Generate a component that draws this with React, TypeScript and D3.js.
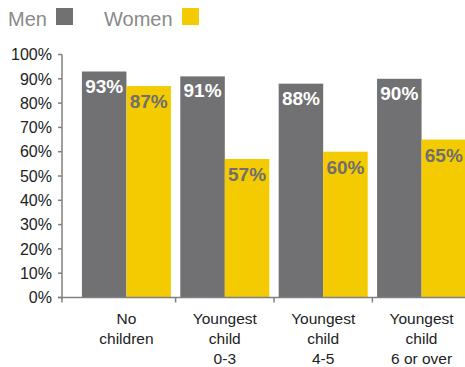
import React from "react";
import * as d3 from "d3";

const categories = ["No children", "Youngest child 0-3", "Youngest child 4-5", "Youngest child 6 or over"];
const categoryLines = [["No", "children"], ["Youngest", "child", "0-3"], ["Youngest", "child", "4-5"], ["Youngest", "child", "6 or over"]];
const menValues = [93, 91, 88, 90];
const womenValues = [87, 57, 60, 65];
const yTicks = [0, 10, 20, 30, 40, 50, 60, 70, 80, 90, 100];
const seriesNames = ["Men", "Women"];

const W = 465, H = 367;
const MEN = "#717072";
const WOMEN = "#f4cb00";
const AXIS = "#808080";
const FONT = "'Liberation Sans', Arial, sans-serif";

export default function App() {
  const y = d3.scaleLinear().domain([0, 100]).range([297.5, 54.5]);
  const x = d3.scaleBand<string>().domain(categories).range([77, 471]).paddingInner(0.095).paddingOuter(0.05);
  const inner = d3.scaleBand<string>().domain(seriesNames).range([0, x.bandwidth()]);
  const axisX = 62;
  const baseY = y(0);
  const step = x.step();

  return (
    <svg width={W} height={H} style={{ position: "absolute", left: 0, top: 0, background: "#fff" }}>
      {/* legend */}
      <text x={8} y={26} fontFamily={FONT} fontSize={20} fill="#8a8a8a">Men</text>
      <rect x={56} y={8} width={17} height={17} fill={MEN} />
      <text x={104} y={26} fontFamily={FONT} fontSize={20} fill="#8a8a8a">Women</text>
      <rect x={182} y={8} width={17} height={17} fill={WOMEN} />

      {/* bars */}
      {categories.map((c, i) => {
        const x0 = x(c)!;
        const bw = inner.bandwidth();
        return (
          <g key={c}>
            <rect x={x0 + inner("Men")!} y={y(menValues[i])} width={bw} height={baseY - y(menValues[i])} fill={MEN} />
            <rect x={x0 + inner("Women")!} y={y(womenValues[i])} width={bw} height={baseY - y(womenValues[i])} fill={WOMEN} />
            <text x={x0 + inner("Men")! + bw / 2} y={y(menValues[i]) + 21} textAnchor="middle" fontFamily={FONT} fontWeight="bold" fontSize={19} fill="#ffffff">{menValues[i]}%</text>
            <text x={x0 + inner("Women")! + bw / 2} y={y(womenValues[i]) + 22} textAnchor="middle" fontFamily={FONT} fontWeight="bold" fontSize={19} fill="#6f6f6f">{womenValues[i]}%</text>
          </g>
        );
      })}

      {/* y axis */}
      <line x1={axisX} x2={axisX} y1={y(100)} y2={baseY + 5} stroke={AXIS} strokeWidth={1.5} />
      {yTicks.map((t) => (
        <g key={t}>
          <line x1={axisX - 4} x2={axisX} y1={y(t)} y2={y(t)} stroke={AXIS} strokeWidth={1.5} />
          <text x={52} y={y(t)} dy="0.36em" textAnchor="end" fontFamily={FONT} fontSize={16} fill="#222">{t}%</text>
        </g>
      ))}

      {/* x axis */}
      <line x1={axisX - 4} x2={W} y1={baseY} y2={baseY} stroke={AXIS} strokeWidth={1.5} />
      {categories.slice(1).map((c) => {
        const tx = x(c)! - (step - x.bandwidth()) / 2;
        return <line key={c} x1={tx} x2={tx} y1={baseY} y2={baseY + 5} stroke={AXIS} strokeWidth={1.5} />;
      })}
      {categories.map((c, i) => (
        <text key={c} textAnchor="middle" fontFamily={FONT} fontSize={15.5} fill="#222">
          {categoryLines[i].map((ln, j) => (
            <tspan key={j} x={x(c)! + x.bandwidth() / 2} y={324 + j * 20}>{ln}</tspan>
          ))}
        </text>
      ))}
    </svg>
  );
}
